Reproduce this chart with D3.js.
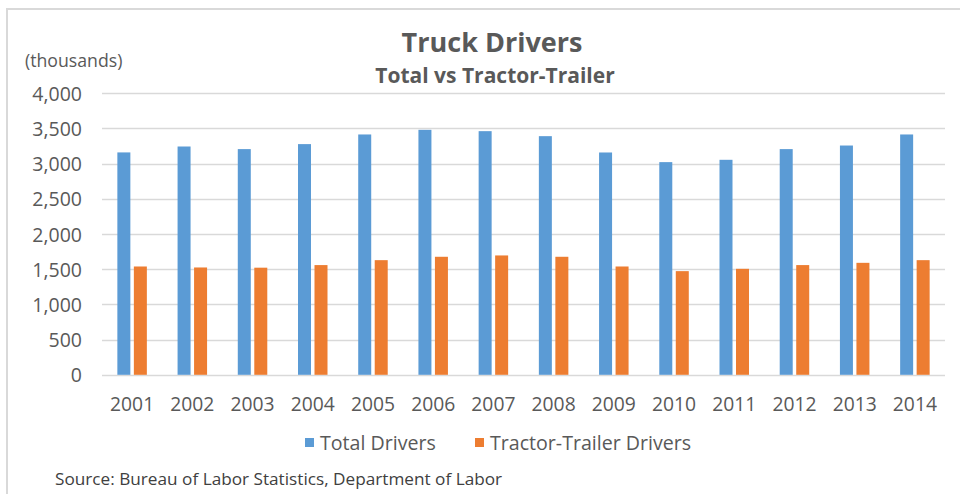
<!DOCTYPE html>
<html><head><meta charset="utf-8">
<script src="https://cdn.jsdelivr.net/npm/d3@7"></script>
<style>
html,body{margin:0;padding:0;background:#fff;}
svg{display:block;font-family:"Open Sans",Lato,sans-serif;}
</style></head>
<body>
<svg id="chart" width="960" height="494"></svg>
<script>
const years = ["2001","2002","2003","2004","2005","2006","2007","2008","2009","2010","2011","2012","2013","2014"];
const totalDrivers = [3160,3244,3207,3278,3415,3481,3462,3391,3159,3022,3055,3207,3258,3415];
const tractorTrailerDrivers = [1539,1525,1522,1559,1629,1677,1696,1677,1539,1473,1506,1559,1591,1629];
const seriesNames = ["Total Drivers","Tractor-Trailer Drivers"];
const yTicks = [0,500,1000,1500,2000,2500,3000,3500,4000];

const colors = ["#5B9BD5","#ED7D31"];
const svg = d3.select("#chart");
const textColor = "#595959";

// frame
svg.append("line").attr("x1",6).attr("x2",960).attr("y1",9).attr("y2",9).attr("stroke","#d9d9d9").attr("stroke-width",2);
svg.append("line").attr("x1",7).attr("x2",7).attr("y1",8).attr("y2",494).attr("stroke","#d9d9d9").attr("stroke-width",2);

const plotL = 102, plotR = 945, plotT = 93.3, plotB = 374.8;
const x = d3.scaleBand().domain(years).range([plotL,plotR]).paddingInner(0).paddingOuter(0);
const y = d3.scaleLinear().domain([0,4000]).range([plotB,plotT]);

// gridlines
svg.append("g").selectAll("line").data(yTicks).join("line")
  .attr("x1",plotL).attr("x2",plotR)
  .attr("y1",d=>Math.round(y(d))+0.5).attr("y2",d=>Math.round(y(d))+0.5)
  .attr("stroke","#d9d9d9").attr("stroke-width",1.3);

// y axis labels
const yAxis = d3.axisLeft(y).tickValues(yTicks).tickSize(0).tickPadding(0).tickFormat(d3.format(","));
const gy = svg.append("g").attr("transform",`translate(82,0)`).call(yAxis);
gy.select(".domain").remove();
gy.selectAll("text").attr("fill",textColor).style("font-size","19.5px").style("font-family","'Open Sans'").attr("dy","0.36em");

// x axis labels
const xAxis = d3.axisBottom(x).tickSize(0).tickPadding(0);
const gx = svg.append("g").attr("transform",`translate(0,397)`).call(xAxis);
gx.select(".domain").remove();
gx.selectAll("text").attr("fill",textColor).style("font-size","19.3px").style("font-family","'Open Sans'").attr("dy","0.71em");

// bars
const barW = 13, gap = 3.5;
const series = [totalDrivers, tractorTrailerDrivers];
series.forEach((vals,si)=>{
  svg.append("g").selectAll("rect").data(vals).join("rect")
    .attr("x",(d,i)=>x(years[i]) + x.bandwidth()/2 + (si===0 ? -gap/2-barW : gap/2))
    .attr("width",barW)
    .attr("y",d=>y(d))
    .attr("height",d=>plotB - y(d))
    .attr("fill",colors[si]);
});

// titles
svg.append("text").attr("x",492).attr("y",51.7).attr("text-anchor","middle")
  .attr("fill",textColor).style("font-size","27px").style("font-weight","bold").text("Truck Drivers");
svg.append("text").attr("x",495).attr("y",82.7).attr("text-anchor","middle")
  .attr("fill",textColor).style("font-size","21px").style("font-weight","bold").text("Total vs Tractor-Trailer");
svg.append("text").attr("x",25).attr("y",67)
  .attr("fill",textColor).style("font-size","17.7px").text("(thousands)");

// legend
const legendItems = [{name:seriesNames[0],x:305},{name:seriesNames[1],x:475}];
const lg = svg.append("g");
legendItems.forEach((it,i)=>{
  lg.append("rect").attr("x",it.x).attr("y",438).attr("width",9).attr("height",9).attr("fill",colors[i]);
  lg.append("text").attr("x",it.x+15).attr("y",450).attr("fill",textColor).style("font-size","19.6px").text(it.name);
});

// source
svg.append("text").attr("x",55).attr("y",485).attr("fill","#404040").style("font-size","17.2px")
  .text("Source: Bureau of Labor Statistics, Department of Labor");
</script>
</body></html>
